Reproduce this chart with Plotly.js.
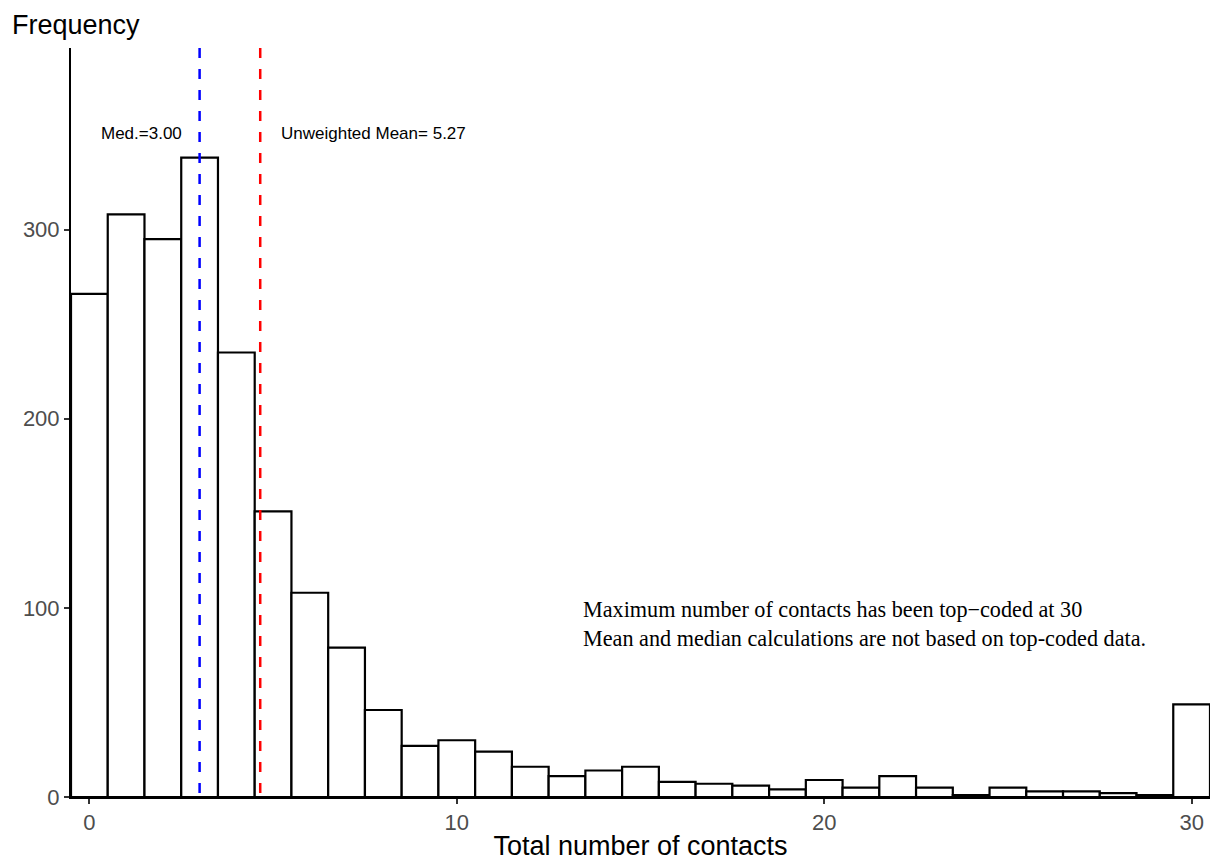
<!DOCTYPE html>
<html>
<head>
<meta charset="utf-8">
<script src="https://cdn.plot.ly/plotly-3.0.1.min.js"></script>
<style>html,body{margin:0;padding:0;background:#fff;}#chart{width:1213px;height:861px;}</style>
</head>
<body>
<div id="chart"></div>
<script>
// Histogram of total number of contacts (bins of width 1, top-coded at 30)
const contacts = [0,1,2,3,4,5,6,7,8,9,10,11,12,13,14,15,16,17,18,19,20,21,22,23,24,25,26,27,28,29,30];
const frequency = [266,308,295,338,235,151,108,79,46,27,30,24,16,11,14,16,8,7,6,4,9,5,11,5,1,5,3,3,2,1,49];
const medianValue = 3.0;
const meanLinePos = 4.65;
const xTicks = [0,10,20,30];
const yTicks = [0,100,200,300];
const medLabel = "Med.=3.00";
const meanLabel = "Unweighted Mean= 5.27";
const noteLines = ["Maximum number of contacts has been top\u2212coded at 30",
                   "Mean and median calculations are not based on top-coded data."];

const sans = "Liberation Sans, Arial, Helvetica, sans-serif";
const serif = "Liberation Serif, Times New Roman, serif";

const trace = {
  type: "bar",
  x: contacts,
  y: frequency,
  width: 1,
  marker: {color: "#ffffff", line: {color: "#000000", width: 2.2}},
  hoverinfo: "x+y"
};

const layout = {
  width: 1213, height: 861,
  margin: {l: 71, r: 3, t: 48, b: 64},
  paper_bgcolor: "#ffffff", plot_bgcolor: "#ffffff",
  showlegend: false,
  bargap: 0,
  xaxis: {
    range: [-0.5, 30.5], tickvals: xTicks, ticktext: xTicks.map(String),
    showgrid: false, zeroline: false,
    showline: true, linecolor: "#000000", linewidth: 2,
    ticks: "outside", ticklen: 5, tickwidth: 2, tickcolor: "#333333",
    tickfont: {family: sans, size: 22, color: "#4D4D4D"},
    title: {text: "Total number of contacts", font: {family: sans, size: 27, color: "#000000"}, standoff: 6}
  },
  yaxis: {
    range: [0, 396], tickvals: yTicks, ticktext: yTicks.map(String),
    showgrid: false, zeroline: false,
    showline: true, linecolor: "#000000", linewidth: 2,
    ticks: "outside", ticklen: 5, tickwidth: 2, tickcolor: "#333333",
    tickfont: {family: sans, size: 22, color: "#4D4D4D"}
  },
  shapes: [
    {type: "line", xref: "x", yref: "paper", x0: medianValue, x1: medianValue, y0: 1, y1: 0,
     line: {color: "#0000FF", width: 2.5, dash: "10px,11px"}, layer: "above"},
    {type: "line", xref: "x", yref: "paper", x0: meanLinePos, x1: meanLinePos, y0: 1, y1: 0,
     line: {color: "#FF0000", width: 2.5, dash: "10px,11px"}, layer: "above"}
  ],
  annotations: [
    {xref: "paper", yref: "paper", x: -0.0535, y: 1.0307, xanchor: "left", yanchor: "middle",
     text: "Frequency", showarrow: false, font: {family: sans, size: 27, color: "#000000"}},
    {xref: "x", yref: "y", x: 1.42, y: 351, xanchor: "center", yanchor: "middle",
     text: medLabel, showarrow: false, font: {family: sans, size: 17, color: "#000000"}},
    {xref: "x", yref: "y", x: 5.15, y: 351, xanchor: "left", yanchor: "middle",
     text: meanLabel, showarrow: false, font: {family: sans, size: 17, color: "#000000"}},
    {xref: "x", yref: "y", x: 13.39, y: 91.5, xanchor: "left", yanchor: "middle", align: "left",
     text: noteLines.join("<br>"), showarrow: false, font: {family: serif, size: 22.2, color: "#000000"}}
  ]
};

Plotly.newPlot("chart", [trace], layout, {displayModeBar: false, staticPlot: true});
</script>
</body>
</html>
